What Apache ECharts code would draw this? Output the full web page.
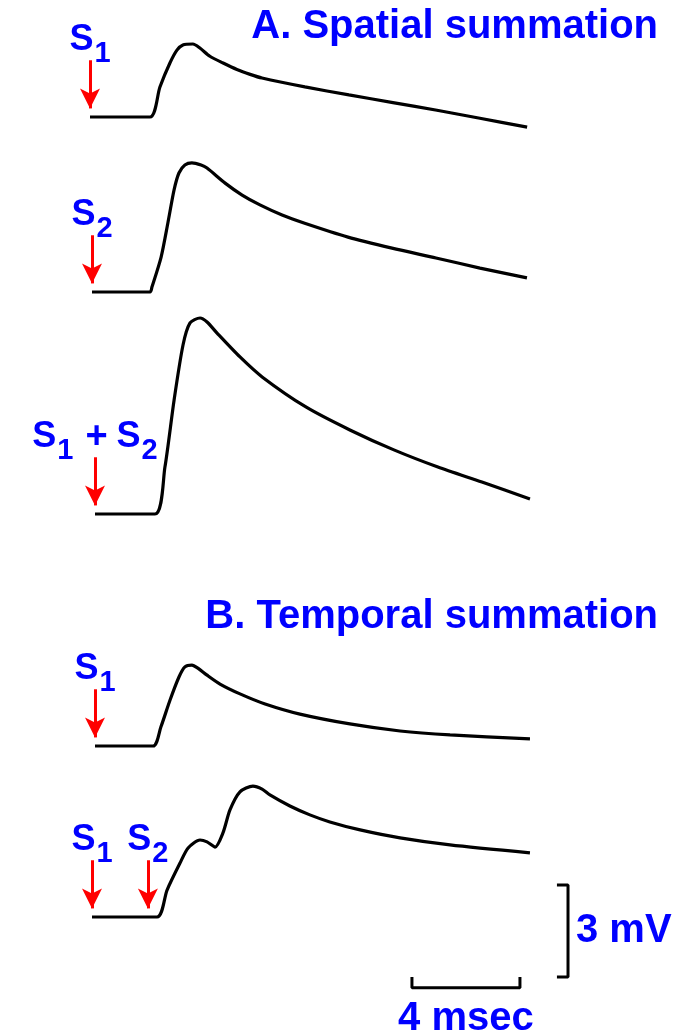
<!DOCTYPE html>
<html>
<head>
<meta charset="utf-8">
<style>
  html, body { margin: 0; padding: 0; background: #fff; }
  #main { width: 686px; height: 1033px; }
</style>
<script src="https://cdn.jsdelivr.net/npm/echarts@6/dist/echarts.min.js"></script>
</head>
<body>
<div id="main"></div>
<script>
// time in msec after the first stimulus, potential in mV above rest
var spatialS1 = [[0, 0], [2.22, 0], [2.59, 0.98], [2.96, 1.76], [3.22, 2.18], [3.44, 2.35], [3.81, 2.38],
  [4.07, 2.25], [4.44, 1.98], [4.93, 1.76], [5.44, 1.55], [5.93, 1.39], [6.37, 1.27], [7.96, 0.98],
  [9.59, 0.72], [11.22, 0.47], [12.85, 0.22], [14.44, -0.04], [16.19, -0.33]];
var spatialS2 = [[0, 0], [2.15, 0], [2.22, 0.16], [2.56, 1.14], [2.81, 2.25], [3.04, 3.33], [3.22, 3.88],
  [3.44, 4.14], [3.70, 4.21], [4.04, 4.14], [4.26, 4.04], [4.93, 3.55], [5.56, 3.16], [6.22, 2.84],
  [7.04, 2.51], [7.85, 2.25], [9.48, 1.79], [11.11, 1.43], [12.74, 1.11], [14.37, 0.78], [16.11, 0.46]];
var spatialBoth = [[0, 0], [2.22, 0], [2.59, 1.53], [2.93, 3.72], [3.26, 5.51], [3.52, 6.23], [3.89, 6.39],
  [4.15, 6.26], [4.52, 5.90], [5.37, 5.12], [6.19, 4.47], [7.81, 3.49], [9.44, 2.74], [11.07, 2.09],
  [12.70, 1.53], [14.33, 1.04], [16.11, 0.49]];
var temporalS1 = [[0, 0], [2.15, 0], [2.44, 0.62], [2.78, 1.50], [3.11, 2.25], [3.33, 2.58], [3.59, 2.64],
  [3.81, 2.54], [4.15, 2.31], [4.63, 2.02], [5.37, 1.70], [6.30, 1.37], [7.59, 1.04], [9.44, 0.72],
  [11.30, 0.49], [13.15, 0.36], [16.11, 0.23]];
var temporalS1S2 = [[0, 0], [2.41, 0], [2.78, 0.88], [3.26, 1.76], [3.56, 2.25], [4.00, 2.51], [4.26, 2.45],
  [4.56, 2.28], [4.85, 2.74], [5.11, 3.49], [5.48, 4.08], [5.96, 4.27], [6.30, 4.17], [6.59, 3.98],
  [7.33, 3.62], [8.07, 3.33], [8.81, 3.10], [9.93, 2.84], [11.41, 2.58], [13.26, 2.35], [16.22, 2.09]];

// stimulus times (msec) and their labels
var stimTimes = [[0], [0], [0], [0], [0, 2.07]];
var stimNames = [['S1'], ['S2'], ['S1 + S2'], ['S1'], ['S1', 'S2']];
var traceData = [spatialS1, spatialS2, spatialBoth, temporalS1, temporalS1S2];
var titles = ['A. Spatial summation', 'B. Temporal summation'];

// calibration
var scaleMs = 4;
var scaleMv = 3;

// layout: pixel origin of each trace (start, resting level)
var PX_MS = 27, PX_MV = 30.67;
var origins = [[90, 117], [92, 292], [95, 514], [95, 746], [92, 917]];
var X_MAX = 18, Y_MIN = -3;

var BLUE = '#0000ff', RED = '#ff0000';
var FONT = 'Liberation Sans, Arial, sans-serif';

function stimLabel(name) {
  return name.split(' + ').map(function (s) {
    return '{s|S}{sub|' + s.slice(1) + '}';
  }).join('{plus|+}');
}

var grids = [], xAxes = [], yAxes = [], series = [];
origins.forEach(function (o, i) {
  var yMax = Math.min(7, Math.floor(o[1] / PX_MV * 10) / 10 - 0.1);
  grids.push({
    left: o[0], top: o[1] - yMax * PX_MV,
    width: X_MAX * PX_MS, height: (yMax - Y_MIN) * PX_MV,
    outerBoundsMode: 'none'
  });
  xAxes.push({ type: 'value', gridIndex: i, min: 0, max: X_MAX, show: false });
  yAxes.push({ type: 'value', gridIndex: i, min: Y_MIN, max: yMax, show: false });
  series.push({
    type: 'line',
    xAxisIndex: i, yAxisIndex: i,
    data: traceData[i],
    showSymbol: false,
    smooth: 0.25,
    clip: false,
    lineStyle: { color: '#000', width: 3.2 },
    markLine: {
      silent: true,
      symbol: ['none', 'arrow'],
      symbolSize: [15, 20],
      lineStyle: { color: RED, width: 3, type: 'solid' },
      label: {
        show: true,
        position: 'start',
        distance: 2,
        formatter: function (p) { return stimLabel(p.name); },
        rich: {
          s: { fontSize: 36, fontWeight: 'bold', color: BLUE, fontFamily: FONT, lineHeight: 36 },
          plus: { fontSize: 38, fontWeight: 'bold', color: BLUE, fontFamily: FONT, lineHeight: 36, padding: [0, 9, 0, 12] },
          sub: { fontSize: 29, fontWeight: 'bold', color: BLUE, fontFamily: FONT, lineHeight: 29, padding: [27, 0, 0, 1] }
        }
      },
      data: stimTimes[i].map(function (t, k) {
        return [{ name: stimNames[i][k], coord: [t, 1.85] }, { coord: [t, 0.28] }];
      })
    }
  });
});

// calibration bars in the last trace's frame
var barY = -2.31, barTick = 0.35, barX = 11.85;
var vBarX = 17.63, vBarTick = 0.41, vBarBottom = -1.96;
var labelStyle = { fontSize: 40, fontWeight: 'bold', color: BLUE, fontFamily: FONT };
series.push({
  type: 'line', xAxisIndex: 4, yAxisIndex: 4, clip: false,
  symbol: 'circle', symbolSize: 0, showSymbol: true,
  lineStyle: { color: '#000', width: 3 },
  data: [
    [barX, barY + barTick], [barX, barY],
    { value: [barX + scaleMs / 2, barY], label: Object.assign({ show: true, position: 'bottom', distance: 11, formatter: scaleMs + ' msec' }, labelStyle) },
    [barX + scaleMs, barY], [barX + scaleMs, barY + barTick]
  ]
});
series.push({
  type: 'line', xAxisIndex: 4, yAxisIndex: 4, clip: false,
  symbol: 'circle', symbolSize: 0, showSymbol: true,
  lineStyle: { color: '#000', width: 3 },
  data: [
    [vBarX - vBarTick, vBarBottom + scaleMv], [vBarX, vBarBottom + scaleMv],
    { value: [vBarX, vBarBottom + scaleMv / 2], label: Object.assign({ show: true, position: 'right', distance: 8, formatter: scaleMv + ' mV' }, labelStyle) },
    [vBarX, vBarBottom], [vBarX - vBarTick, vBarBottom]
  ]
});

var myChart = echarts.init(document.getElementById('main'));
myChart.setOption({
  backgroundColor: '#fff',
  animation: false,
  title: [
    { text: titles[0], right: 23, top: 2, textStyle: labelStyle },
    { text: titles[1], right: 23, top: 592, textStyle: labelStyle }
  ],
  grid: grids,
  xAxis: xAxes,
  yAxis: yAxes,
  series: series
});
</script>
</body>
</html>
